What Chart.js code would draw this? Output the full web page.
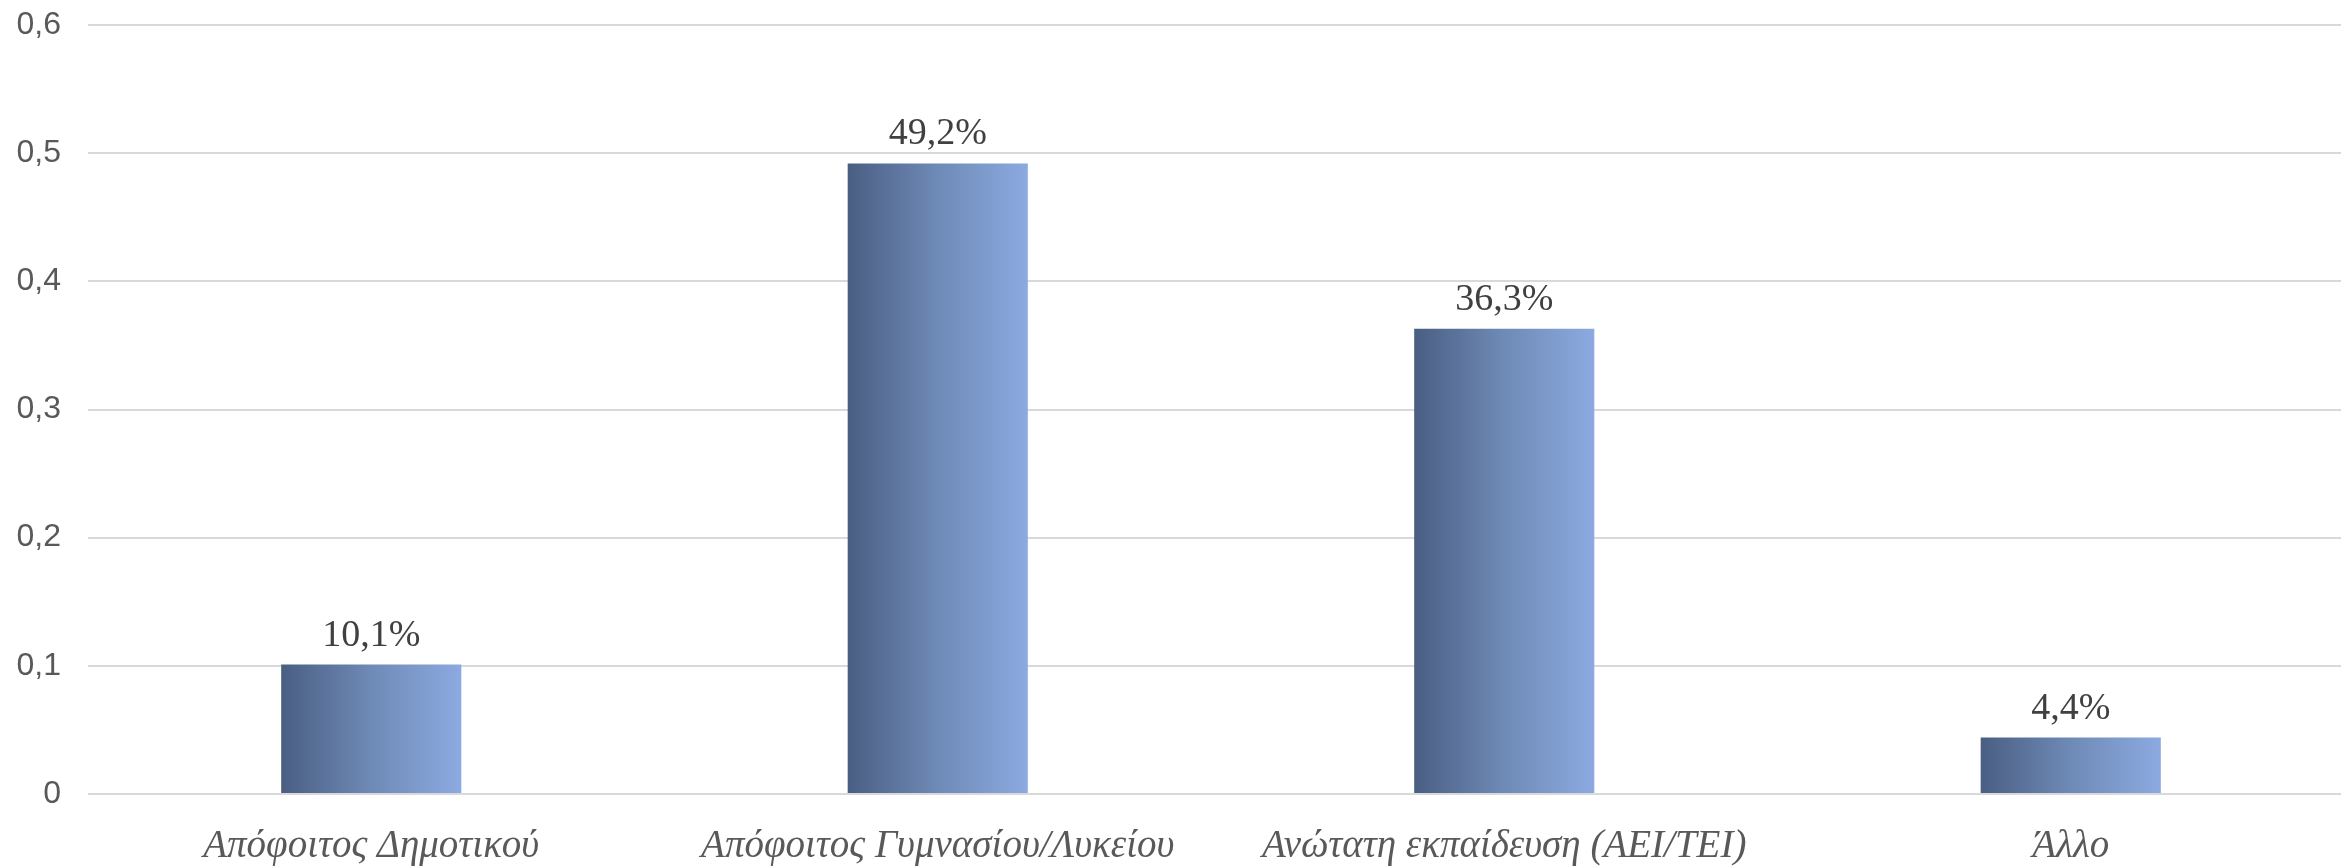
<!DOCTYPE html>
<html>
<head>
<meta charset="utf-8">
<script src="https://cdn.jsdelivr.net/npm/chart.js@4"></script>
<style>
  html, body { margin: 0; padding: 0; background: #fff; overflow: hidden; }
  #wrap { width: 2354px; height: 866px; }
</style>
</head>
<body>
<div id="wrap"><canvas id="chart"></canvas></div>
<script>
// Data
const categories = ['Απόφοιτος Δημοτικού', 'Απόφοιτος Γυμνασίου/Λυκείου', 'Ανώτατη εκπαίδευση (ΑΕΙ/ΤΕΙ)', 'Άλλο'];
const shares = [0.101, 0.492, 0.363, 0.044];

const BAR_PCT = 0.318;

function barGradient(c) {
    const chart = c.chart;
    const xs = chart.scales.x;
    if (!xs || !chart.chartArea) return '#6f8bb6';
    const cx = xs.getPixelForValue(c.dataIndex);
    const w = (xs.width / categories.length) * BAR_PCT;
    const g = chart.ctx.createLinearGradient(cx - w / 2, 0, cx + w / 2, 0);
    g.addColorStop(0, '#4a5e83');
    g.addColorStop(0.5, '#6e8ab6');
    g.addColorStop(1, '#8caae1');
    return g;
}

// value labels above the bars
const valueLabels = {
    id: 'valueLabels',
    afterDatasetsDraw(chart) {
        const ctx = chart.ctx;
        const meta = chart.getDatasetMeta(0);
        ctx.save();
        ctx.font = '38px "Liberation Serif"';
        ctx.fillStyle = '#404040';
        ctx.textAlign = 'center';
        ctx.textBaseline = 'alphabetic';
        meta.data.forEach((bar, i) => {
            const txt = (shares[i] * 100).toFixed(1).replace('.', ',') + '%';
            ctx.fillText(txt, bar.x, bar.y - 19);
        });
        ctx.restore();
    }
};

new Chart(document.getElementById('chart'), {
    type: 'bar',
    data: {
        labels: categories,
        datasets: [{
            data: shares,
            backgroundColor: barGradient,
            borderWidth: 0,
            categoryPercentage: 1,
            barPercentage: BAR_PCT
        }]
    },
    options: {
        responsive: true,
        maintainAspectRatio: false,
        animation: false,
        layout: {
            autoPadding: false,
            padding: { left: 0, top: 25, right: 0, bottom: 0 }
        },
        scales: {
            x: {
                grid: { display: false, drawTicks: false },
                border: { display: false },
                afterFit: s => { s.height = 72; },
                ticks: {
                    color: '#595959',
                    padding: 33,
                    maxRotation: 0,
                    autoSkip: false,
                    font: { family: 'Liberation Serif', size: 39, style: 'italic', lineHeight: 1 }
                }
            },
            y: {
                min: 0,
                max: 0.6,
                grid: { color: '#d9d9d9', lineWidth: 2, drawTicks: false },
                border: { display: false },
                afterFit: s => { s.width = 88; s.paddingTop = 0; s.paddingBottom = 0; },
                ticks: {
                    stepSize: 0.1,
                    color: '#595959',
                    padding: 27,
                    font: { family: 'Liberation Sans', size: 32 },
                    callback: v => v === 0 ? '0' : v.toFixed(1).replace('.', ',')
                }
            }
        },
        plugins: {
            legend: { display: false },
            tooltip: { enabled: false }
        }
    },
    plugins: [valueLabels]
});
</script>
</body>
</html>
